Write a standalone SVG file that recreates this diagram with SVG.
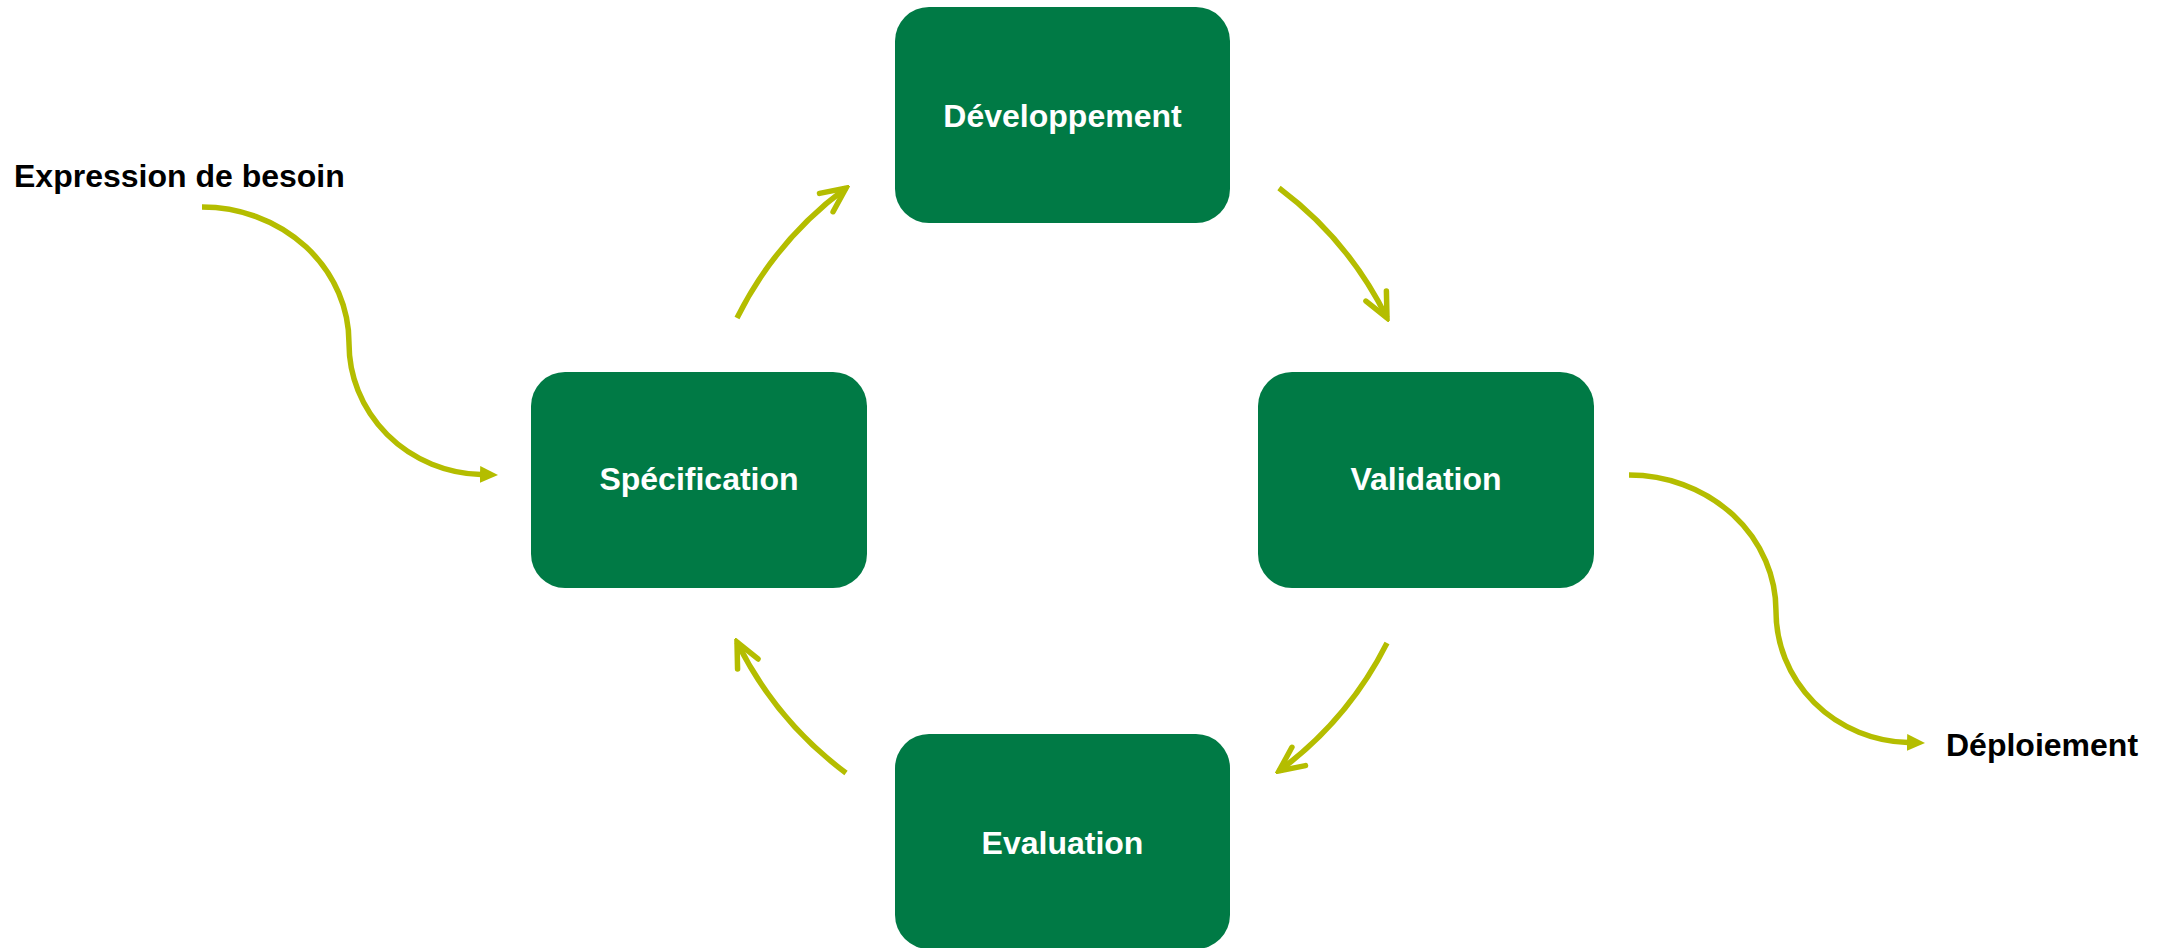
<svg xmlns="http://www.w3.org/2000/svg" width="2172" height="948" viewBox="0 0 2172 948">
  <style>
    .box { fill: #007A45; }
    .lbl { font-family: "Liberation Sans", Arial, sans-serif; font-weight: bold; font-size: 32px; fill: #FFFFFF; text-anchor: middle; }
    .ext { font-family: "Liberation Sans", Arial, sans-serif; font-weight: bold; font-size: 32px; fill: #000000; }
    .cyc { fill: none; stroke: #B4BD00; stroke-width: 5.5; marker-end: url(#chev); }
    .flow { fill: none; stroke: #B4BD00; stroke-width: 5.5; marker-end: url(#tri); }
  </style>
  <defs>
    <marker id="chev" markerUnits="userSpaceOnUse" viewBox="-32 -16 36 32" markerWidth="36" markerHeight="32" refX="0" refY="0" orient="auto">
      <path d="M-24.5,-11.4 L0,0 L-24.5,11.4" fill="none" stroke="#B4BD00" stroke-width="5.5" stroke-linecap="round" stroke-linejoin="miter"/>
    </marker>
    <marker id="tri" markerUnits="userSpaceOnUse" viewBox="0 -10 20 20" markerWidth="20" markerHeight="20" refX="1" refY="0" orient="auto">
      <path d="M0,-8.5 L18,0 L0,8.5 Z" fill="#B4BD00"/>
    </marker>
  </defs>

  <g id="connectors">
    <path class="cyc" d="M737,318 A362,362 0 0 1 846,188"/>
    <path class="cyc" d="M1279,188 A362,362 0 0 1 1387,318"/>
    <path class="cyc" d="M1387,643 A362,362 0 0 1 1279,771"/>
    <path class="cyc" d="M846,773 A362,362 0 0 1 737,642"/>
    <path class="flow" d="M202,207 A147,136 0 0 1 349,343 A136,131 0 0 0 481,474.5"/>
    <path class="flow" d="M1629,475 A147,136 0 0 1 1776,611 A136,131 0 0 0 1908,742.5"/>
  </g>

  <g id="node-developpement">
    <rect class="box" x="895" y="7" width="335" height="216" rx="34" ry="34"/>
    <text class="lbl" x="1062.5" y="127">Développement</text>
  </g>
  <g id="node-specification">
    <rect class="box" x="531" y="372" width="336" height="216" rx="34" ry="34"/>
    <text class="lbl" x="699" y="490">Spécification</text>
  </g>
  <g id="node-validation">
    <rect class="box" x="1258" y="372" width="336" height="216" rx="34" ry="34"/>
    <text class="lbl" x="1426" y="490">Validation</text>
  </g>
  <g id="node-evaluation">
    <rect class="box" x="895" y="734" width="335" height="215" rx="34" ry="34"/>
    <text class="lbl" x="1062.5" y="854">Evaluation</text>
  </g>
  <g id="node-expression">
    <text class="ext" x="14" y="187">Expression de besoin</text>
  </g>
  <g id="node-deploiement">
    <text class="ext" x="1946" y="756">Déploiement</text>
  </g>
</svg>
